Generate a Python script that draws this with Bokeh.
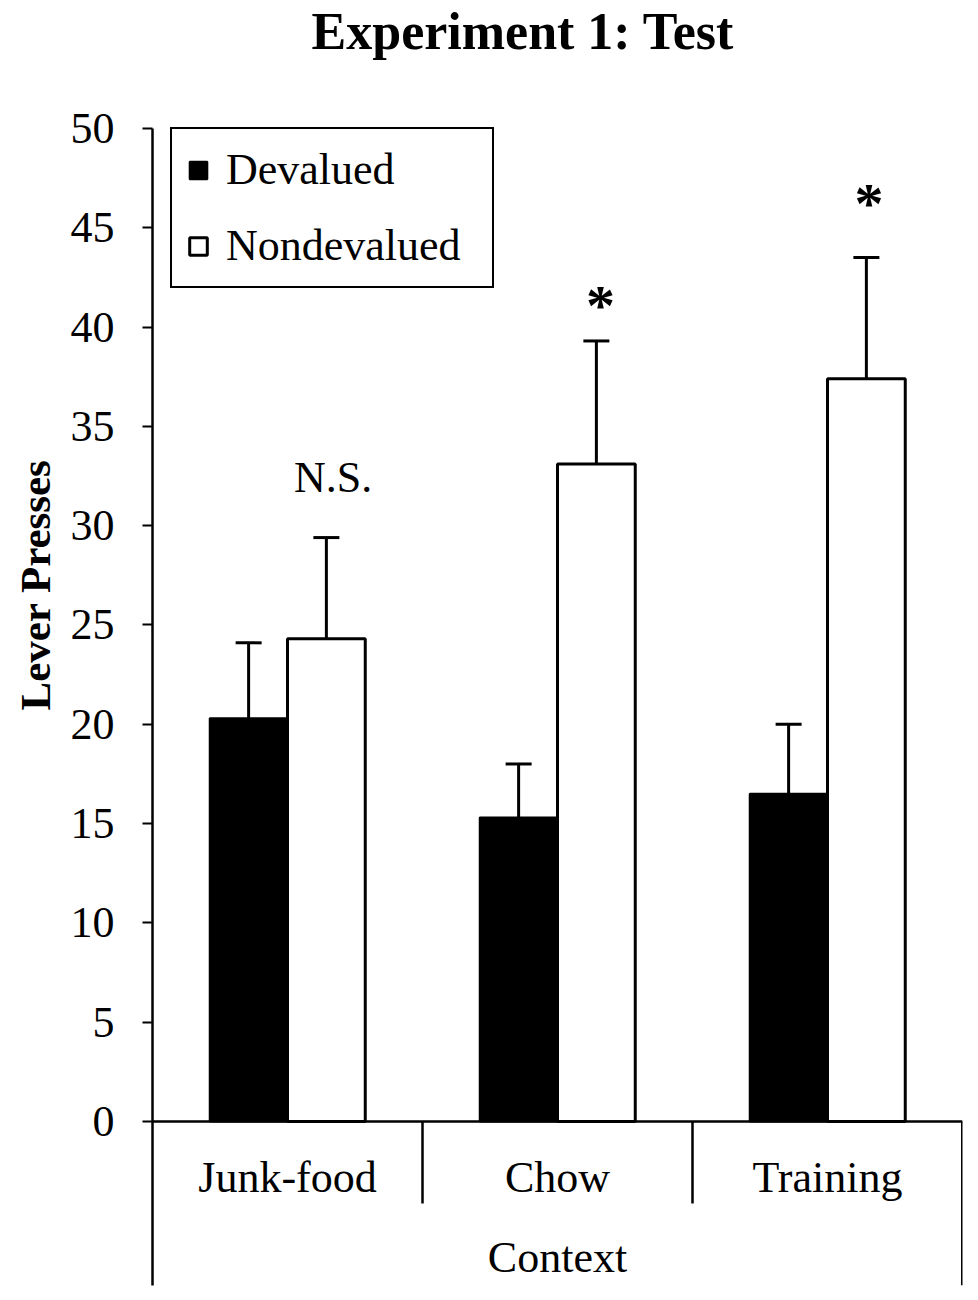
from bokeh.plotting import figure
from bokeh.models import (ColumnDataSource, FactorRange, Range1d, FixedTicker, Whisker,
                          TeeHead, Title)
from bokeh.transform import dodge
from bokeh.core.properties import value
from bokeh.embed import file_html
from bokeh.resources import INLINE

contexts = ["Junk-food", "Chow", "Training"]
devalued = [20.3, 15.3, 16.5]
devalued_err = [3.8, 2.7, 3.5]
nondevalued = [24.3, 33.1, 37.4]
nondevalued_err = [5.1, 6.2, 6.1]
sig_labels = ["N.S.", "*", "*"]
sig_y = [32.4, 41.1, 46.2]
y_ticks = [0, 5, 10, 15, 20, 25, 30, 35, 40, 45, 50]
title_text = "Experiment 1: Test"

SERIF = "Liberation Serif"
BW = 0.288
W, H = 970, 1292
Y_LO, Y_AX_HI, Y_HI = -8.26, 50, 56.04   # frame extends above 50 to hold the title

src = ColumnDataSource(dict(
    ctx=contexts,
    dev=devalued,
    dev_up=[v + e for v, e in zip(devalued, devalued_err)],
    non=nondevalued,
    non_up=[v + e for v, e in zip(nondevalued, nondevalued_err)],
    non_lo=[v - e for v, e in zip(nondevalued, nondevalued_err)],
))

p = figure(x_range=FactorRange(*contexts, range_padding=0),
           y_range=Range1d(Y_LO, Y_HI),
           width=W, height=H,
           min_border_left=152, min_border_right=8,
           min_border_top=8, min_border_bottom=7,
           output_backend="svg", toolbar_location=None)
p.outline_line_color = None
p.xgrid.visible = False
p.ygrid.visible = False
p.xaxis.visible = False
p.background_fill_color = "white"

ya = p.yaxis[0]
ya.ticker = FixedTicker(ticks=y_ticks)
ya.bounds = (Y_LO, Y_AX_HI)
ya.major_tick_out = 10
ya.major_tick_in = 0
ya.minor_tick_line_color = None
ya.axis_line_width = 2.5
ya.major_tick_line_width = 2
ya.major_label_text_font = SERIF
ya.major_label_text_font_size = "44px"
ya.major_label_text_color = "black"
ya.major_label_standoff = 28
ya.axis_line_color = "black"
ya.major_tick_line_color = "black"

# y-axis title placed on the left side, offset upward like the reference
p.add_layout(Title(text="Lever Presses", text_font=SERIF, text_font_size="43px",
                   text_font_style="bold", text_color="black", align="left",
                   text_line_height=1.0, offset=575, standoff=18), "left")

# chart title
p.text(x=[(contexts[0], 0.089)], y=[54.89], text=[title_text], text_font=value(SERIF),
       text_font_size="52px", text_font_style="bold", text_align="left",
       text_baseline="alphabetic", text_color="black")

r1 = p.vbar(x=dodge("ctx", -BW / 2, range=p.x_range), top="dev", width=BW, bottom=0,
            source=src, fill_color="black", line_color="black", line_width=2,
            legend_label="Devalued")
r2 = p.vbar(x=dodge("ctx", BW / 2, range=p.x_range), top="non", width=BW, bottom=0,
            source=src, fill_color="white", line_color="black", line_width=3,
            legend_label="Nondevalued")

p.add_layout(Whisker(base=dodge("ctx", -BW / 2, range=p.x_range), upper="dev_up", lower="dev",
                     source=src, line_width=3, line_color="black",
                     upper_head=TeeHead(size=26, line_width=3, line_color="black"),
                     lower_head=None))
p.add_layout(Whisker(base=dodge("ctx", BW / 2, range=p.x_range), upper="non_up", lower="non_lo",
                     source=src, line_width=3, line_color="black",
                     upper_head=TeeHead(size=26, line_width=3, line_color="black"),
                     lower_head=TeeHead(size=26, line_width=3, line_color="black")))

# significance marks
p.text(x=[(contexts[0], BW / 2 + 0.025)], y=[sig_y[0]], text=[sig_labels[0]],
       text_font=value(SERIF), text_font_size="44px", text_align="center",
       text_baseline="middle", text_color="black")
p.text(x=[(contexts[1], BW / 2 + 0.015), (contexts[2], BW / 2 + 0.01)], y=sig_y[1:],
       text=sig_labels[1:], text_font=value(SERIF), text_font_size="58px",
       text_font_style="bold", text_align="center", text_baseline="middle", text_color="black")

# baseline and category frame
p.segment(x0=[(contexts[0], -0.5)], y0=[0], x1=[(contexts[-1], 0.5)], y1=[0],
          line_color="black", line_width=2.5)
p.segment(x0=[(contexts[1], -0.5), (contexts[2], -0.5)], y0=[0, 0],
          x1=[(contexts[1], -0.5), (contexts[2], -0.5)], y1=[-4.13, -4.13],
          line_color="black", line_width=2.5)
p.segment(x0=[(contexts[2], 0.5)], y0=[0], x1=[(contexts[2], 0.5)], y1=[Y_LO],
          line_color="black", line_width=3)

cat_src = ColumnDataSource(dict(ctx=contexts, y=[-2.8] * 3))
p.text(x="ctx", y="y", text="ctx", source=cat_src, text_font=value(SERIF),
       text_font_size="44px", text_align="center", text_baseline="middle", text_color="black")
p.text(x=[contexts[1]], y=[-6.85], text=["Context"], text_font=value(SERIF),
       text_font_size="44px", text_align="center", text_baseline="middle", text_color="black")

lg = p.legend[0]
lg.location = (18, 1277 - 120 - 160)
lg.margin = 0
lg.border_line_color = "black"
lg.border_line_alpha = 1
lg.border_line_width = 2.5
lg.label_text_font = SERIF
lg.label_text_font_size = "44px"
lg.label_text_color = "black"
lg.label_text_line_height = 1.0
lg.label_width = 251
lg.glyph_width = 22
lg.glyph_height = 22
lg.label_standoff = 17
lg.spacing = 25
lg.padding = 15
lg.background_fill_alpha = 1

open("out.html", "w").write(file_html(p, INLINE))
